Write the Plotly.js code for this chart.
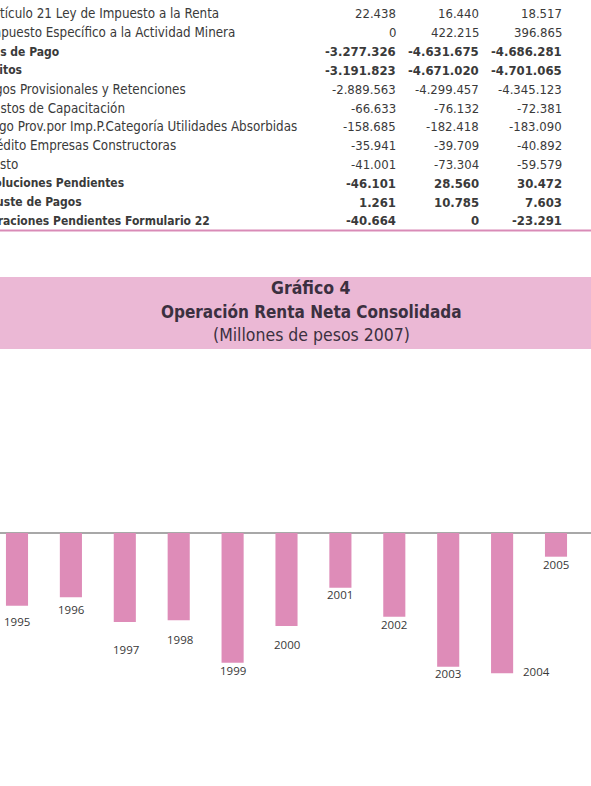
<!DOCTYPE html>
<html>
<head>
<meta charset="utf-8">
<script src="https://cdn.plot.ly/plotly-3.0.1.min.js"></script>
<style>
  html, body { margin: 0; padding: 0; background: #ffffff; overflow: hidden; }
  #chart { width: 591px; height: 786px; }
</style>
</head>
<body>
<div id="chart"></div>
<script>
// ---- Table rows shown above the chart (Millones de pesos) ----
const rowLabels = [
  "Donaciones Art.31 N°7 Libro de IVA",
  "Artículo 21 Ley de Impuesto a la Renta",
  "Impuesto Específico a la Actividad Minera",
  "Formas de Pago",
  "Créditos",
  "Pagos Provisionales y Retenciones",
  "Gastos de Capacitación",
  "Pago Prov.por Imp.P.Categoría Utilidades Absorbidas",
  "Crédito Empresas Constructoras",
  "Resto",
  "Devoluciones Pendientes",
  "Ajuste de Pagos",
  "Declaraciones Pendientes Formulario 22"
];
const rowBold = [false, false, false, true, true, false, false, false, false, false, true, true, true];
const col2005 = ["55.552", "22.438", "0", "-3.277.326", "-3.191.823", "-2.889.563", "-66.633", "-158.685", "-35.941", "-41.001", "-46.101", "1.261", "-40.664"];
const col2006 = ["432.235", "16.440", "422.215", "-4.631.675", "-4.671.020", "-4.299.457", "-76.132", "-182.418", "-39.709", "-73.304", "28.560", "10.785", "0"];
const col2007 = ["448.794", "18.517", "396.865", "-4.686.281", "-4.701.065", "-4.345.123", "-72.381", "-183.090", "-40.892", "-59.579", "30.472", "7.603", "-23.291"];

// ---- Gráfico 4: Operación Renta Neta Consolidada ----
const years = ["1995", "1996", "1997", "1998", "1999", "2000", "2001", "2002", "2003", "2004", "2005"];
const rentaNeta = [-727000, -643000, -890000, -873000, -1297000, -930000, -547000, -837000, -1337000, -1403000, -237000];

// ---- Placement of the year labels under each bar (pixels) ----
const labelDrop = [16, 12, 27, 19, 8, 18, 7, 8, 7, -2, 8];
const labelSide = [0, 1, 1, 1, 0, 0, 0, 0, 0, 34, 0];
// right edge of each row label (pixels from left)
const labelRight = [185, 220, 236, 60, 23, 187, 126, 298, 177, 19, 125, 83, 211];

const W = 591, H = 786;
const px = x => x / W;
const py = y => 1 - y / H;

const bodyFont = "DejaVu Sans Condensed, DejaVu Sans, sans-serif";
const textColor = "#3a3a3a";

const annotations = [];

// table text
const rowY = i => (i === 0 ? -4.4 : 14 + 18.8 * (i - 1));
const colRight = [397, 480, 563];
rowLabels.forEach((lab, i) => {
  const wrap = s => (rowBold[i] ? "<b>" + s + "</b>" : s);
  annotations.push({
    xref: "paper", yref: "paper", x: px(labelRight[i]), y: py(rowY(i)),
    xanchor: "right", yanchor: "middle", showarrow: false, borderpad: 0,
    text: wrap(lab), font: { family: bodyFont, size: rowBold[i] ? 12 : 13.3, color: textColor }
  });
  [col2005[i], col2006[i], col2007[i]].forEach((v, c) => {
    annotations.push({
      xref: "paper", yref: "paper", x: px(colRight[c]), y: py(rowY(i)),
      xanchor: "right", yanchor: "middle", showarrow: false, borderpad: 0,
      text: wrap(v), font: { family: bodyFont, size: 13, color: textColor }
    });
  });
});

// header titles
const titleColor = "#3b3040";
annotations.push(
  { xref: "paper", yref: "paper", x: 0.527, y: py(288), xanchor: "center", yanchor: "middle", showarrow: false,
    text: "<b>Gráfico 4</b>", font: { family: bodyFont, size: 17.5, color: titleColor } },
  { xref: "paper", yref: "paper", x: 0.527, y: py(312), xanchor: "center", yanchor: "middle", showarrow: false,
    text: "<b>Operación Renta Neta Consolidada</b>", font: { family: bodyFont, size: 17, color: titleColor } },
  { xref: "paper", yref: "paper", x: 0.527, y: py(335), xanchor: "center", yanchor: "middle", showarrow: false,
    text: "(Millones de pesos 2007)", font: { family: bodyFont, size: 17.5, color: titleColor } }
);

// year labels hanging under the bars (category index on the x axis)
years.forEach((yr, i) => {
  annotations.push({
    xref: "x", yref: "y", x: i, y: rentaNeta[i],
    xanchor: "center", yanchor: "middle", showarrow: false,
    xshift: labelSide[i], yshift: -labelDrop[i],
    text: yr, font: { family: "Open Sans, sans-serif", size: 11.5, color: "#383838" }
  });
});

// value scale: 10 000 per pixel, zero line at 533 px
const perPx = 10000;
const plotTop = 360;
const zeroY = 533;
const catPx = 53.9;
const firstCenter = 17;

const trace = {
  type: "bar",
  x: years,
  y: rentaNeta,
  marker: { color: "#de8cb8", line: { width: 0 } },
  hoverinfo: "skip"
};

const layout = {
  width: W, height: H,
  margin: { l: 0, r: 0, t: 0, b: 0 },
  paper_bgcolor: "#ffffff",
  plot_bgcolor: "rgba(0,0,0,0)",
  showlegend: false,
  bargap: 0.59,
  xaxis: {
    type: "category",
    range: [-firstCenter / catPx, -firstCenter / catPx + W / catPx],
    showticklabels: false, showgrid: false, zeroline: false, showline: false, ticks: ""
  },
  yaxis: {
    domain: [0, (H - plotTop) / H],
    range: [-(H - zeroY) * perPx, (zeroY - plotTop) * perPx],
    showticklabels: false, showgrid: false, ticks: "", showline: false,
    zeroline: true, zerolinecolor: "#a8a8a8", zerolinewidth: 1.3
  },
  shapes: [
    { type: "rect", xref: "paper", yref: "paper", x0: 0, x1: 1, y0: py(349), y1: py(277),
      fillcolor: "#ebb8d5", line: { width: 0 }, layer: "below" },
    { type: "line", xref: "paper", yref: "paper", x0: 0, x1: 1, y0: py(230.5), y1: py(230.5),
      line: { color: "#d98bb7", width: 2 } }
  ],
  annotations: annotations
};

Plotly.newPlot("chart", [trace], layout, { staticPlot: true, displayModeBar: false });
</script>
</body>
</html>
